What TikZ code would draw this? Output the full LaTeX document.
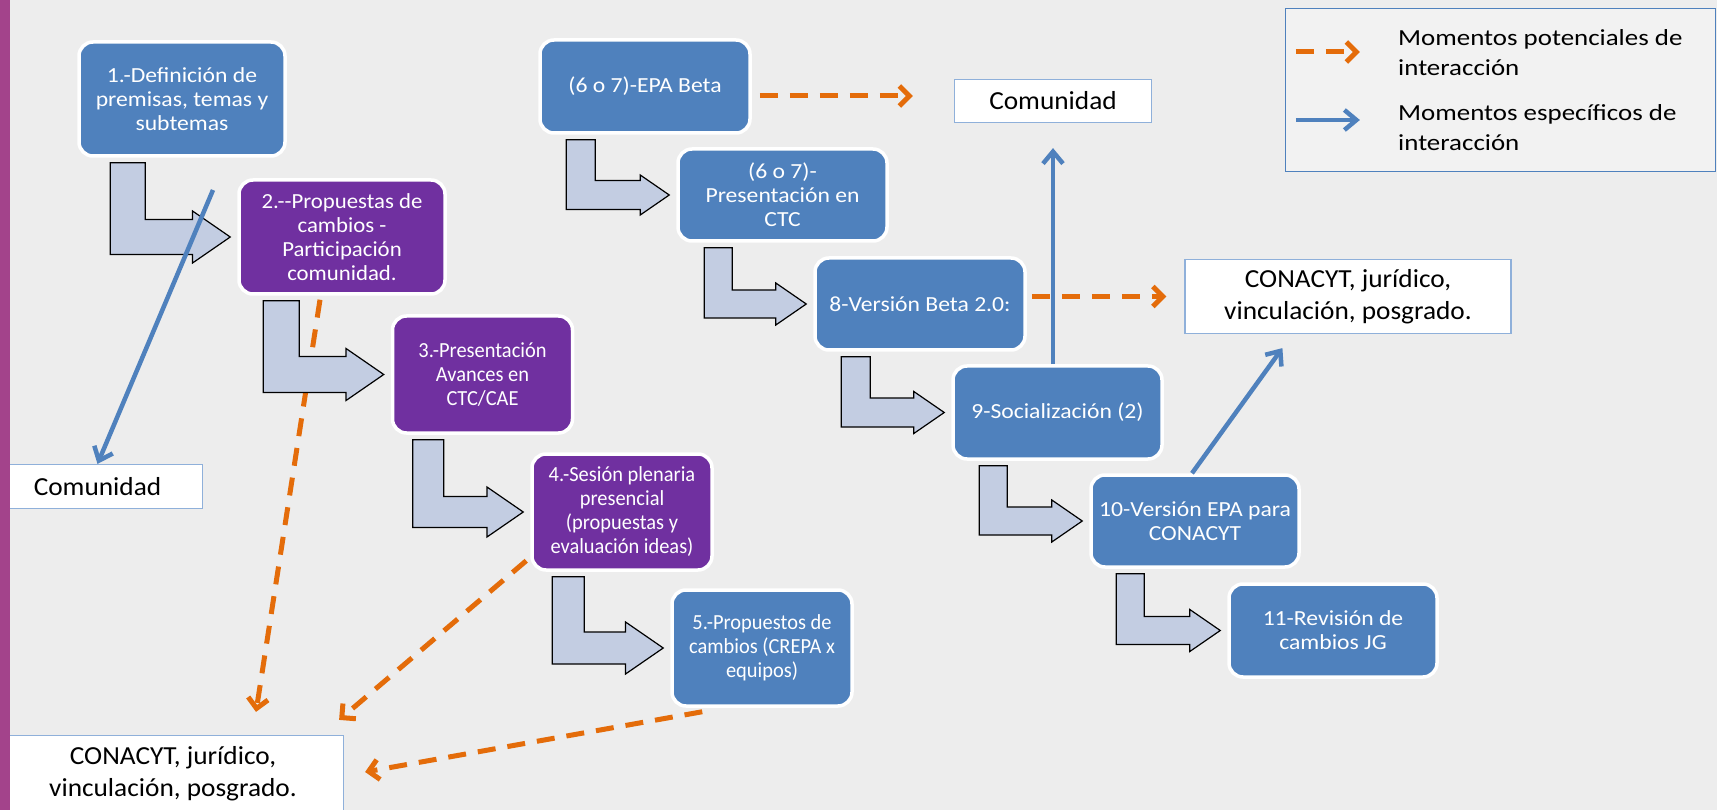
\documentclass[tikz,border=0pt]{standalone}
\usepackage{fontspec}
\setmainfont{Carlito}
\newfontfamily\cajafont[FakeStretch=1.1]{Carlito}
\newfontfamily\cajamedia[FakeStretch=1.06]{Carlito}
\newfontfamily\cajaestrecha[FakeStretch=0.95]{Carlito}
\newfontfamily\blancafont[FakeStretch=1.05]{Carlito}
\newfontfamily\leyfont[FakeStretch=1.17]{Carlito}
\usetikzlibrary{arrows.meta,calc}
\definecolor{fondo}{HTML}{EDEDED}
\definecolor{franja}{HTML}{A3438B}
\definecolor{azulcaja}{HTML}{4F81BD}
\definecolor{moradocaja}{HTML}{7030A0}
\definecolor{flecha}{HTML}{C3CDE2}
\definecolor{naranja}{HTML}{E46C0A}
\definecolor{azullinea}{HTML}{4F81BD}
\definecolor{bordeblanco}{HTML}{8FB0DA}
\definecolor{fondoley}{HTML}{F2F2F2}

% bent block arrow: from, to, offset, shaft width, head half width
\newcommand{\bendto}[5]{%
  \draw[bent] let \p1=([shift={(#3,5)}]#1.south west), \p2=([xshift=-7pt]#2.west) in
    (\p1) -- (\x1,{\y2-#4pt/2}) -- ({\x2-1.45*#5pt},{\y2-#4pt/2}) -- ({\x2-1.45*#5pt},{\y2-#5pt})
    -- (\p2) -- ({\x2-1.45*#5pt},{\y2+#5pt}) -- ({\x2-1.45*#5pt},{\y2+#4pt/2})
    -- ({\x1+#4pt},{\y2+#4pt/2}) -- ({\x1+#4pt},\y1) -- cycle;}

\begin{document}
\begin{tikzpicture}[x=1pt,y=-1pt,
  caja/.style={draw=white,line width=3.5pt,rounded corners=14pt,text=white,align=center,
    inner sep=0pt,font=\cajafont\fontsize{21.5}{24}\selectfont},
  azul/.style={caja,fill=azulcaja},
  morado/.style={caja,fill=moradocaja},
  blanca/.style={draw=bordeblanco,line width=1.2pt,fill=white,align=center,inner sep=0pt,
    font=\blancafont\fontsize{26}{32}\selectfont},
  bent/.style={draw=black,line width=1.2pt,fill=flecha},
  pot/.style={draw=naranja,line width=5pt,dash pattern=on 18pt off 12pt,
    -{Straight Barb[length=10pt,width=20pt]}},
  esp/.style={draw=azullinea,line width=4.5pt,-{Straight Barb[length=12pt,width=20pt]}}]
	\useasboundingbox (0,0) rectangle (1717,810);
	\fill[fondo] (0,0) rectangle (1717,810);

	\node[azul, minimum width=206pt, minimum height=114pt] (def) at (182,99) {1.-Definición de\\premisas, temas y\\subtemas};
	\node[morado, minimum width=206pt, minimum height=114pt, font=\cajamedia\fontsize{21.5}{24}\selectfont] (pc) at (342,237) {2.{-}{-}Propuestas de\\cambios -\\Participación\\comunidad.};
	\node[morado, minimum width=180pt, minimum height=117pt, font=\cajaestrecha\fontsize{21.5}{24}\selectfont] (pres) at (482.5,374.5) {3.-Presentación\\Avances en\\CTC/CAE};
	\node[morado, minimum width=180pt, minimum height=116pt, font=\cajaestrecha\fontsize{21.5}{24}\selectfont] (ses) at (622,512) {4.-Sesión plenaria\\presencial\\(propuestas y\\evaluación ideas)};
	\node[azul, minimum width=180pt, minimum height=116pt, font=\cajaestrecha\fontsize{21.5}{24}\selectfont] (pro) at (762,648) {5.-Propuestos de\\cambios (CREPA x\\equipos)};
	\node[azul, minimum width=210pt, minimum height=93pt] (ep) at (645,86.5) {(6 o 7)-EPA Beta};
	\node[azul, minimum width=209pt, minimum height=92pt] (ctc) at (782.5,195) {(6 o 7)-\\Presentación en\\CTC};
	\node[azul, minimum width=210pt, minimum height=92pt] (v8) at (920,304) {8-Versión Beta 2.0:};
	\node[azul, minimum width=209pt, minimum height=93pt] (soc) at (1057.5,412.5) {9-Socialización (2)};
	\node[azul, minimum width=208pt, minimum height=92pt] (v10) at (1195,521) {10-Versión EPA para\\CONACYT};
	\node[azul, minimum width=208pt, minimum height=93pt] (rev) at (1333,630.5) {11-Revisión de\\cambios JG};

	\node[blanca, minimum width=210pt, minimum height=44pt] (comL) at (97.5,486.5) {Comunidad};
	\node[blanca, minimum width=197pt, minimum height=43pt] (comT) at (1053,101) {Comunidad};
	\node[blanca, minimum width=326pt, minimum height=74pt] (conR) at (1348,296.5) {CONACYT, jurídico,\\vinculación, posgrado.};
	\node[blanca, minimum width=341pt, minimum height=77pt] (conB) at (173,774) {CONACYT, jurídico,\\vinculación, posgrado.};

	\draw[pot] ([shift={(-22,4)}]pc.south) -- ([shift={(83,-23)}]conB.north);
	\draw[pot] ([shift={(-4,-11)}]ses.south west) -- ([shift={(-5,-15)}]conB.north east);
	\draw[pot] ([shift={(32,4)}]pro.south west) -- ([shift={(21,-2)}]conB.east);
	\draw[pot] ([shift={(8,9.5)}]ep.east) -- ([shift={(-41,-5)}]comT.west);
	\draw[pot, shorten <=5pt, shorten >=18pt] (v8.east |- conR.west) -- (conR.west);

	\bendto{def}{pc}{33}{35}{26}
	\bendto{pc}{pres}{26}{36}{26}
	\bendto{pres}{ses}{22}{31}{25}
	\bendto{ses}{pro}{22}{32}{26}
	\bendto{ep}{ctc}{28}{29}{20}
	\bendto{ctc}{v8}{28}{28}{21}
	\bendto{v8}{soc}{28}{29}{21}
	\bendto{soc}{v10}{28}{28}{21}
	\bendto{v10}{rev}{27}{28}{21}

	\coordinate (bl) at (213,190);
	\draw[esp] (bl) -- (comL.north);
	\draw[esp, shorten >=25pt] (soc.north -| comT.south) -- (comT.south);
	\draw[esp] ([xshift=-3pt]v10.north) -- ([shift={(98,14)}]conR.south west);

	% leyenda
	\node[draw=azullinea, line width=1.2pt, fill=fondoley, minimum width=430pt, minimum height=163pt] (ley) at (1500.5,90) {};
	\draw[pot] ([shift={(11,-38)}]ley.west) -- ([shift={(75,-38)}]ley.west);
	\draw[esp] ([shift={(11,30)}]ley.west) -- ([shift={(75,30)}]ley.west);
	\node[anchor=west, align=left, inner sep=0pt, font=\leyfont\fontsize{23}{30}\selectfont] (lpot) at (1398,53) {Momentos potenciales de\\interacción};
	\node[anchor=west, align=left, inner sep=0pt, font=\leyfont\fontsize{23}{30}\selectfont] (lesp) at (1398,127.5) {Momentos específicos de\\interacción};

	\fill[franja] (0,0) rectangle (10,810);
\end{tikzpicture}
\end{document}
